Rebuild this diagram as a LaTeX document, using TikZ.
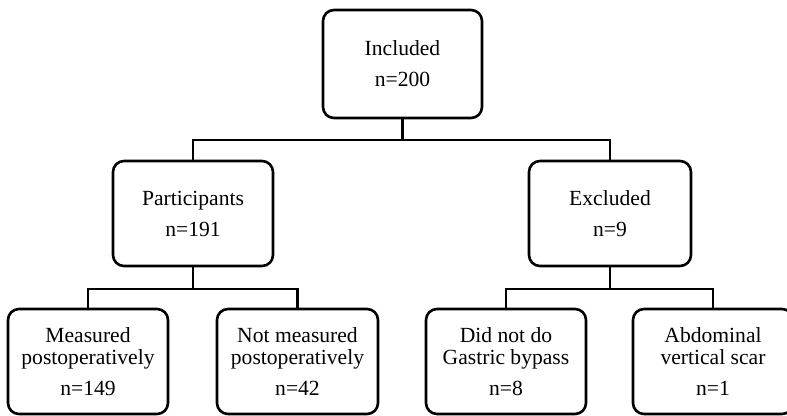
\documentclass[tikz,border=0pt]{standalone}
\usepackage{fontspec}
\setmainfont{Liberation Serif}
\begin{document}
\begin{tikzpicture}[x=1pt, y=-1pt,
        box/.style={draw, rounded corners=11pt, line width=2.6pt, align=center,
            font=\fontsize{21.6}{22}\selectfont, inner sep=0pt},
        topbox/.style={box, minimum width=159pt, minimum height=108pt},
        midbox/.style={box, minimum width=160pt, minimum height=105pt},
        lowbox/.style={box, minimum width=160pt, minimum height=105pt},
        link/.style={line width=2.2pt}]

        \clip (0,0) rectangle (787,415);
        \useasboundingbox (0,0) rectangle (787,415);

        % top level
        \node[topbox] (included) at (402.5,64) {Included\\[9pt]n=200};

        % second level
        \node[midbox] (participants) at (193,213.5) {Participants\\[9pt]n=191};
        \node[midbox, minimum width=162pt] (excluded) at (610,213.5) {Excluded\\[9pt]n=9};

        % third level
        \node[lowbox] (measured) at (88,361.5) {Measured\\postoperatively\\[9pt]n=149};
        \node[lowbox, minimum width=161pt] (notmeasured) at (297.5,361.5) {Not measured\\postoperatively\\[9pt]n=42};
        \node[lowbox] (nobypass) at (506,361.5) {Did not do\\Gastric bypass\\[9pt]n=8};
        \node[lowbox] (scar) at (713,361.5) {Abdominal\\vertical scar\\[9pt]n=1};

        % connectors
        \draw[link] (included.south) -- ++(0,21) -| (participants.north);
        \draw[link] (included.south) ++(0,21) -| (excluded.north);
        \draw[link] (participants.south) -- ++(0,22) -| (measured.north);
        \draw[link] (participants.south) ++(0,22) -| (notmeasured.north);
        \draw[link] (excluded.south) -- ++(0,22) -| (nobypass.north);
        \draw[link] (excluded.south) ++(0,22) -| (scar.north);
\end{tikzpicture}
\end{document}
